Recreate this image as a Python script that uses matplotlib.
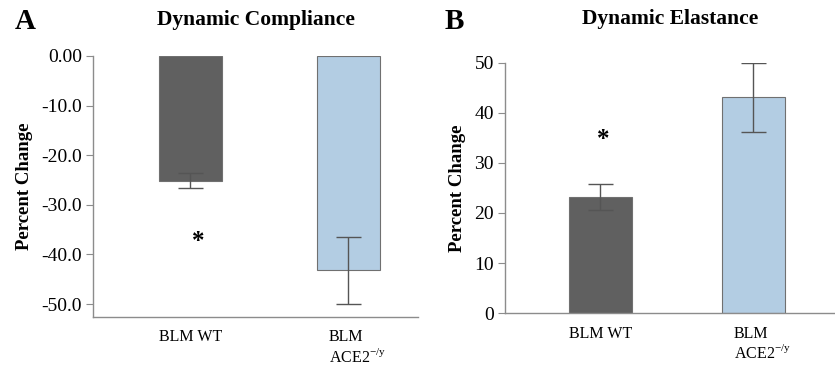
import matplotlib
matplotlib.use('Agg')
import matplotlib.pyplot as plt
import matplotlib.transforms as mtransforms

plt.rcParams['font.family'] = ['Liberation Serif', 'DejaVu Serif']
plt.rcParams['mathtext.fontset'] = 'custom'
plt.rcParams['mathtext.rm'] = 'Liberation Serif'

groups = ['BLM WT', 'BLM\nACE2$^{\\mathrm{-/y}}$']
colors = ['#606060', '#b3cde3']

# panel A: dynamic compliance
comp_mean = [-25.2, -43.2]
comp_err_lo = [1.5, 6.8]
comp_err_hi = [1.6, 6.7]
comp_ticks = [0, -10, -20, -30, -40, -50]
comp_ticklabels = ['0.00', '-10.0', '-20.0', '-30.0', '-40.0', '-50.0']
comp_star = -37.3

# panel B: dynamic elastance
elas_mean = [23.1, 43.1]
elas_err_lo = [2.6, 6.9]
elas_err_hi = [2.7, 6.9]
elas_ticks = [0, 10, 20, 30, 40, 50]
elas_star = 34.6

fig = plt.figure(figsize=(8.35, 3.66), dpi=100)
axA = fig.add_axes([0.1114, 0.1339, 0.3892, 0.7131])
axB = fig.add_axes([0.6048, 0.1448, 0.3952, 0.6831])

gray = '#8c8c8c'


def style(ax):
    for s in ['top', 'right']:
        ax.spines[s].set_visible(False)
    for s in ['left', 'bottom']:
        ax.spines[s].set_color(gray)
        ax.spines[s].set_linewidth(1.0)
    ax.tick_params(axis='y', length=5, color=gray, labelsize=14, pad=3)
    ax.tick_params(axis='x', length=0, labelsize=11.5, pad=9)
    ax.set_ylabel('Percent Change', fontsize=13.5, fontweight='bold', labelpad=6)
    # second group label sits a bit right of its bar
    shift = mtransforms.ScaledTranslation(0.09, 0, fig.dpi_scale_trans)
    lab = ax.get_xticklabels()[1]
    lab.set_transform(lab.get_transform() + shift)


x = [0, 1]

# A
axA.bar(x, comp_mean, width=0.4, color=colors, edgecolor='#707070', linewidth=0.8)
axA.errorbar(x, comp_mean, yerr=[comp_err_lo, comp_err_hi], fmt='none',
             ecolor='#555555', elinewidth=1, capsize=9, capthick=1)
axA.set_xlim(-0.617, 1.44)
axA.set_ylim(-52.6, 0)
axA.set_yticks(comp_ticks)
axA.set_yticklabels(comp_ticklabels)
axA.set_xticks(x)
axA.set_xticklabels(groups, multialignment='left')
axA.text(0.05, comp_star, '*', ha='center', va='center', fontsize=18, fontweight='bold')
style(axA)
axA.set_title('Dynamic Compliance', fontsize=15.5, fontweight='bold', pad=22)
fig.text(0.018, 0.94, 'A', fontsize=21, fontweight='bold', va='center')

# B
axB.bar(x, elas_mean, width=0.41, color=colors, edgecolor='#707070', linewidth=0.8)
axB.errorbar(x, elas_mean, yerr=[elas_err_lo, elas_err_hi], fmt='none',
             ecolor='#555555', elinewidth=1, capsize=9, capthick=1)
axB.set_xlim(-0.623, 1.534)
axB.set_ylim(0, 50)
axB.set_yticks(elas_ticks)
axB.set_xticks(x)
axB.set_xticklabels(groups, multialignment='left')
axB.text(0.02, elas_star, '*', ha='center', va='center', fontsize=18, fontweight='bold')
style(axB)
axB.set_title('Dynamic Elastance', fontsize=15.5, fontweight='bold', pad=28)
fig.text(0.532, 0.94, 'B', fontsize=21, fontweight='bold', va='center')

fig.savefig('out.png', dpi=100)
